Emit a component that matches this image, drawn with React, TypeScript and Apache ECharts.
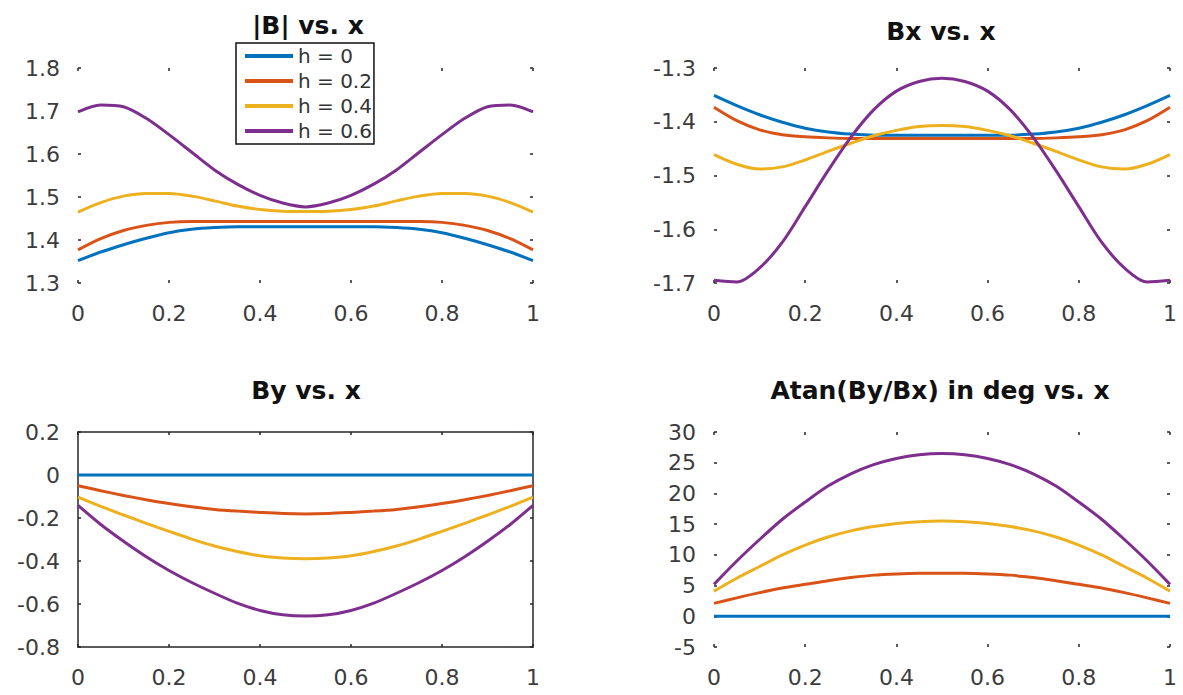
import React, { useEffect, useRef } from "react";
import * as echarts from "echarts";

const X = [0, 0.05, 0.1, 0.15, 0.2, 0.25, 0.3, 0.35, 0.4, 0.45, 0.5, 0.55, 0.6, 0.65, 0.7, 0.75, 0.8, 0.85, 0.9, 0.95, 1];
const NAMES = ["h = 0", "h = 0.2", "h = 0.4", "h = 0.6"];
const COLORS = ["#0072BD", "#D95319", "#EDB120", "#7E2F8E"];
const XTICKS = [0, 0.2, 0.4, 0.6, 0.8, 1];

// |B| vs x
const B_H0 = [1.352, 1.372, 1.389, 1.404, 1.417, 1.425, 1.429, 1.431, 1.431, 1.431, 1.431, 1.431, 1.431, 1.431, 1.429, 1.425, 1.417, 1.404, 1.389, 1.372, 1.352];
const B_H2 = [1.377, 1.403, 1.422, 1.434, 1.441, 1.443, 1.443, 1.443, 1.443, 1.443, 1.443, 1.443, 1.443, 1.443, 1.443, 1.443, 1.441, 1.434, 1.422, 1.403, 1.377];
const B_H4 = [1.465, 1.487, 1.502, 1.508, 1.508, 1.502, 1.491, 1.479, 1.471, 1.467, 1.466, 1.467, 1.471, 1.479, 1.491, 1.502, 1.508, 1.508, 1.502, 1.487, 1.465];
const B_H6 = [1.698, 1.714, 1.71, 1.683, 1.645, 1.604, 1.563, 1.53, 1.504, 1.486, 1.477, 1.486, 1.504, 1.53, 1.563, 1.604, 1.645, 1.683, 1.71, 1.714, 1.698];

// Bx vs x
const BX_H0 = [-1.351, -1.37, -1.387, -1.401, -1.412, -1.419, -1.423, -1.425, -1.425, -1.425, -1.425, -1.425, -1.425, -1.425, -1.423, -1.419, -1.412, -1.401, -1.387, -1.37, -1.351];
const BX_H2 = [-1.373, -1.398, -1.415, -1.424, -1.428, -1.43, -1.431, -1.431, -1.431, -1.431, -1.431, -1.431, -1.431, -1.431, -1.431, -1.43, -1.428, -1.424, -1.415, -1.398, -1.373];
const BX_H4 = [-1.461, -1.479, -1.488, -1.484, -1.471, -1.455, -1.44, -1.426, -1.416, -1.409, -1.407, -1.409, -1.416, -1.426, -1.44, -1.455, -1.471, -1.484, -1.488, -1.479, -1.461];
const BX_H6 = [-1.695, -1.698, -1.672, -1.624, -1.558, -1.491, -1.429, -1.378, -1.343, -1.325, -1.319, -1.325, -1.343, -1.378, -1.429, -1.491, -1.558, -1.624, -1.672, -1.698, -1.695];

// By vs x
const BY_H0 = [0, 0, 0, 0, 0, 0, 0, 0, 0, 0, 0, 0, 0, 0, 0, 0, 0, 0, 0, 0, 0];
const BY_H2 = [-0.05, -0.073, -0.095, -0.115, -0.133, -0.148, -0.16, -0.168, -0.174, -0.179, -0.181, -0.179, -0.174, -0.168, -0.16, -0.148, -0.133, -0.115, -0.095, -0.073, -0.05];
const BY_H4 = [-0.103, -0.146, -0.186, -0.225, -0.262, -0.298, -0.33, -0.356, -0.376, -0.386, -0.389, -0.386, -0.376, -0.356, -0.33, -0.298, -0.262, -0.225, -0.186, -0.146, -0.103];
const BY_H6 = [-0.141, -0.23, -0.308, -0.38, -0.444, -0.5, -0.55, -0.596, -0.63, -0.65, -0.656, -0.65, -0.63, -0.596, -0.55, -0.5, -0.444, -0.38, -0.308, -0.23, -0.141];

// Atan(By/Bx) in deg vs x
const A_H0 = [0, 0, 0, 0, 0, 0, 0, 0, 0, 0, 0, 0, 0, 0, 0, 0, 0, 0, 0, 0, 0];
const A_H2 = [2.1, 3.0, 3.85, 4.6, 5.2, 5.8, 6.3, 6.7, 6.9, 7.0, 7.0, 7.0, 6.9, 6.7, 6.3, 5.8, 5.2, 4.6, 3.85, 3.0, 2.1];
const A_H4 = [4.1, 6.2, 8.1, 10.0, 11.6, 12.9, 13.9, 14.6, 15.1, 15.4, 15.5, 15.4, 15.1, 14.6, 13.9, 12.9, 11.6, 10.0, 8.1, 6.2, 4.1];
const A_H6 = [5.2, 9.0, 12.5, 15.8, 18.6, 21.2, 23.2, 24.7, 25.7, 26.3, 26.5, 26.3, 25.7, 24.7, 23.2, 21.2, 18.6, 15.8, 12.5, 9.0, 5.2];

const PANELS = [
  { title: "|B| vs. x", series: [B_H0, B_H2, B_H4, B_H6], ymin: 1.3, ymax: 1.8, yint: 0.1, boxed: false },
  { title: "Bx vs. x", series: [BX_H0, BX_H2, BX_H4, BX_H6], ymin: -1.7, ymax: -1.3, yint: 0.1, boxed: false },
  { title: "By vs. x", series: [BY_H0, BY_H2, BY_H4, BY_H6], ymin: -0.8, ymax: 0.2, yint: 0.2, boxed: true },
  { title: "Atan(By/Bx) in deg vs. x", series: [A_H0, A_H2, A_H4, A_H6], ymin: -5, ymax: 30, yint: 5, boxed: false },
];

const GRIDS = [
  { left: 78, top: 68, width: 455, height: 215 },
  { left: 714, top: 68, width: 456, height: 215 },
  { left: 78, top: 432, width: 455, height: 215 },
  { left: 714, top: 432, width: 456, height: 215 },
];
const TITLE_POS = [
  { x: 308, y: 25 },
  { x: 941, y: 31 },
  { x: 306, y: 390 },
  { x: 940, y: 390 },
];

const TEXT_FONT = "DejaVu Sans";
const INK = "#262626";

export default function App() {
  const ref = useRef<HTMLDivElement>(null);
  useEffect(() => {
    if (!ref.current) return;
    const chart = echarts.init(ref.current, undefined, { renderer: "svg" });
    const xAxes: any[] = [];
    const yAxes: any[] = [];
    const series: any[] = [];
    PANELS.forEach((p, g) => {
      const line = { show: p.boxed, onZero: false, lineStyle: { color: INK, width: 1.5 } };
      const tick = { show: true, inside: true, length: 3, lineStyle: { color: INK, width: 1.5 } };
      const label = { color: "#3c3c3c", fontFamily: TEXT_FONT, fontSize: 22 };
      ["bottom", "top"].forEach((pos, k) => {
        xAxes.push({
          type: "value", gridIndex: g, position: pos, min: XTICKS[0], max: XTICKS[XTICKS.length - 1], interval: 0.2,
          axisLine: line, axisTick: tick, splitLine: { show: false },
          axisLabel: { ...label, show: k === 0, margin: 19 },
        });
      });
      ["left", "right"].forEach((pos, k) => {
        yAxes.push({
          type: "value", gridIndex: g, position: pos, min: p.ymin, max: p.ymax, interval: p.yint,
          axisLine: line, axisTick: tick, splitLine: { show: false },
          axisLabel: { ...label, show: k === 0, margin: 18 },
        });
      });
      p.series.forEach((ys, i) => {
        series.push({
          type: "line", name: NAMES[i], xAxisIndex: 2 * g, yAxisIndex: 2 * g,
          data: X.map((x, j) => [x, ys[j]]),
          showSymbol: false, symbol: "none", smooth: 0.3,
          lineStyle: { color: COLORS[i], width: 3 }, itemStyle: { color: COLORS[i] },
        });
      });
    });
    chart.setOption({
      animation: false,
      backgroundColor: "#ffffff",
      color: COLORS,
      grid: GRIDS.map((r) => ({ ...r, containLabel: false })),
      xAxis: xAxes,
      yAxis: yAxes,
      series,
      legend: {
        data: NAMES, orient: "vertical", left: 236, top: 43,
        icon: "rect", itemWidth: 48, itemHeight: 4, itemGap: 5,
        padding: [3, 2, 3, 9], borderColor: "#111", borderWidth: 1.5, backgroundColor: "#fff",
        textStyle: { color: "#333", fontFamily: TEXT_FONT, fontSize: 20, lineHeight: 20 },
        selectedMode: false,
      },
      graphic: PANELS.map((p, g) => ({
        type: "text", x: TITLE_POS[g].x, y: TITLE_POS[g].y,
        style: {
          text: p.title, fill: "#111", font: `bold 25px "${TEXT_FONT}"`,
          align: "center", verticalAlign: "middle", textAlign: "center", textVerticalAlign: "middle",
        },
      })),
    });
    return () => chart.dispose();
  }, []);
  return <div ref={ref} style={{ position: "absolute", left: 0, top: 0, width: 1183, height: 695 }} />;
}
